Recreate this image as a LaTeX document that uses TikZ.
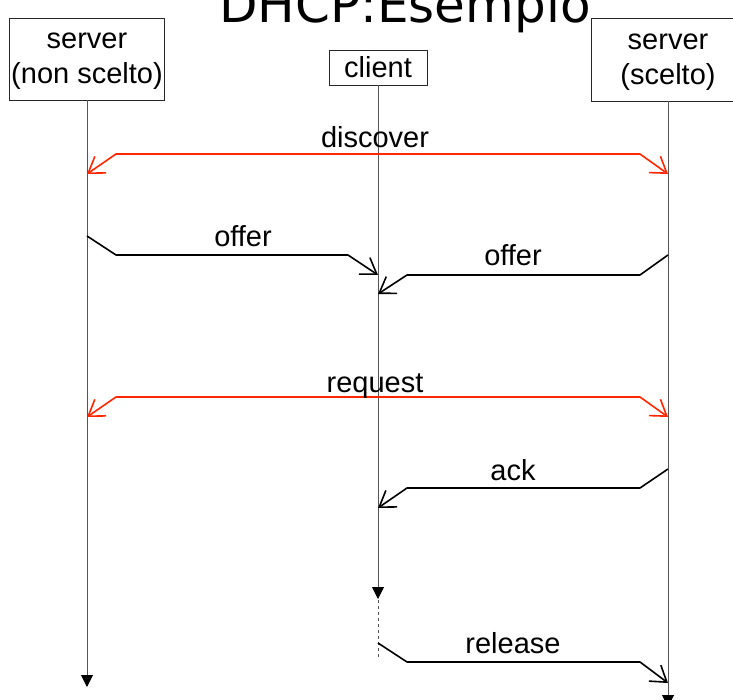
\documentclass[tikz,border=0pt]{standalone}
\usepackage{fontspec}
\setmainfont{Liberation Sans}
\newfontfamily\titlefont{DejaVu Sans}
\usetikzlibrary{arrows.meta}
\definecolor{msgred}{RGB}{255,38,0}
\definecolor{lifegray}{RGB}{85,85,85}

\begin{document}
\begin{tikzpicture}[x=1pt,y=-1pt,
  actorbox/.style={draw=black!85, line width=0.9pt, fill=white, inner sep=0pt},
  actortext/.style={font=\fontsize{29pt}{32pt}\selectfont, anchor=base, inner sep=0pt},
  lifeline/.style={draw=lifegray, line width=1pt, -{Triangle[length=12pt,width=12pt,color=black]}},
  barb/.tip={Straight Barb[length=15pt,width=20pt]},
  msg/.style={line width=1.6pt, line join=round, -barb},
  bcast/.style={line width=1.6pt, line join=round, draw=msgred, barb-barb},
  lbl/.style={font=\fontsize{29pt}{32pt}\selectfont, anchor=base, inner sep=0pt}]

\useasboundingbox (0,0) rectangle (733,700);
\clip (0,0) rectangle (733,700);

% title, partly above the top edge
\node[font=\titlefont\fontsize{50pt}{56pt}\selectfont, anchor=base, inner sep=0pt] (title) at (405,23) {DHCP:Esempio};

% participants
\node[actorbox, minimum width=155pt, minimum height=82pt] (srvA) at (87,59) {};
\node[actortext] (srvAt1) at (87,49) {server};
\node[actortext] (srvAt2) at (87,84) {(non scelto)};

\node[actorbox, minimum width=98pt, minimum height=35pt] (cli) at (378,67.5) {};
\node[actortext] (clit) at (378,78) {client};

\node[actorbox, minimum width=154pt, minimum height=83pt] (srvB) at (668,59.5) {};
\node[actortext] (srvBt1) at (668,50) {server};
\node[actortext] (srvBt2) at (668,85) {(scelto)};

% lifelines
\coordinate (endA) at (87,687);
\coordinate (endC) at (378,599);
\coordinate (dashC) at (378,658);
\coordinate (endB) at (668,707);
\draw[lifeline] (srvA.south) -- (endA);
\draw[lifeline] (cli.south) -- (endC);
\draw[lifegray, line width=1pt, dash pattern=on 3pt off 3pt] (endC) ++(0,1) -- (dashC);
\draw[lifeline] (srvB.south) -- (endB);

% discover (broadcast)
\coordinate (discA) at (87,174);
\coordinate (discB) at (668,174);
\draw[bcast] (discA) -- (116,154) -- (640,154) -- (discB);
\node[lbl] (discL) at (375,148) {discover};

% offer from the non chosen server
\coordinate (offA) at (87,236);
\coordinate (offAc) at (378,275);
\draw[msg] (offA) -- (116,255) -- (348,255) -- (offAc);
\node[lbl] (offAL) at (243,247) {offer};

% offer from the chosen server
\coordinate (offB) at (668,255);
\coordinate (offBc) at (378,294);
\draw[msg] (offB) -- (640,275) -- (407,275) -- (offBc);
\node[lbl] (offBL) at (513,266) {offer};

% request (broadcast)
\coordinate (reqA) at (87,417);
\coordinate (reqB) at (668,417);
\draw[bcast] (reqA) -- (116,397) -- (640,397) -- (reqB);
\node[lbl] (reqL) at (375,392) {request};

% ack
\coordinate (ackB) at (668,469);
\coordinate (ackC) at (378,508);
\draw[msg] (ackB) -- (640,488) -- (407,488) -- (ackC);
\node[lbl] (ackL) at (513,480) {ack};

% release
\coordinate (relC) at (378,643);
\coordinate (relB) at (668,683);
\draw[msg] (relC) -- (407,662) -- (640,662) -- (relB);
\node[lbl] (relL) at (513,653) {release};
\end{tikzpicture}
\end{document}
